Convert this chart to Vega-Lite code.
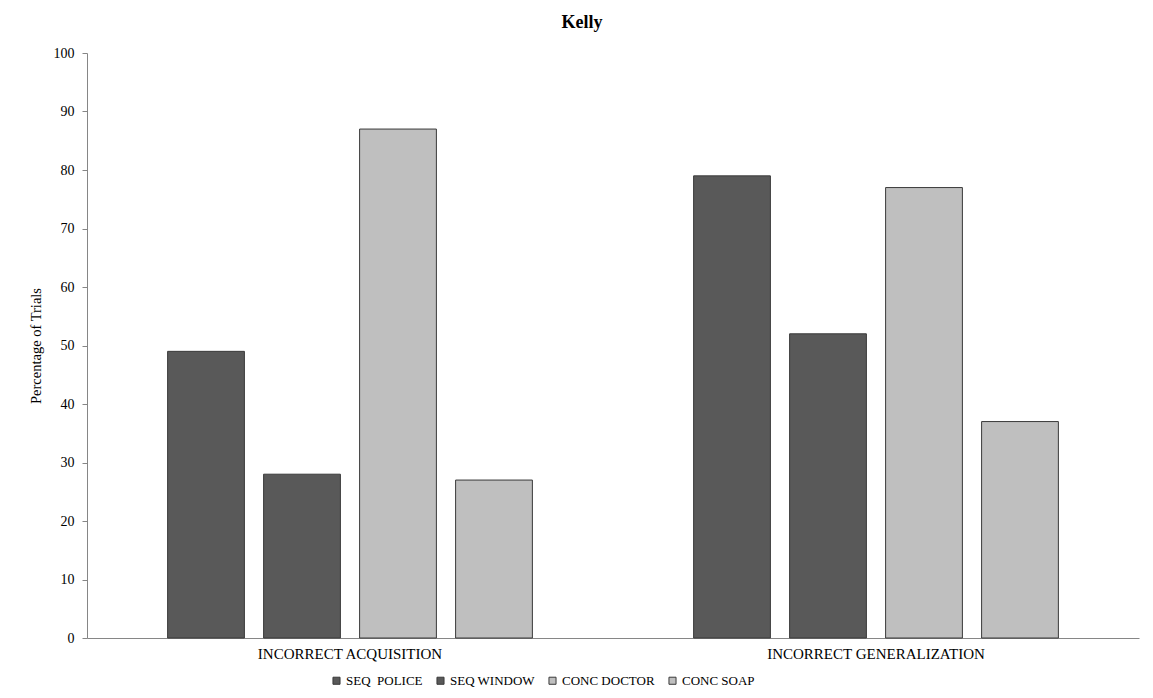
{
  "$schema": "https://vega.github.io/schema/vega-lite/v6.json",
  "width": 1052,
  "height": 585,
  "autosize": "none",
  "padding": {"left": 87, "top": 53, "right": 14, "bottom": 60},
  "background": "white",
  "title": {"text": "Kelly", "font": "Liberation Serif", "fontSize": 18, "fontWeight": "bold", "color": "black", "offset": 14, "dx": -31},
  "data": {
    "values": [
      {"measure": "INCORRECT ACQUISITION", "series": "SEQ\u00a0 POLICE", "value": 49},
      {"measure": "INCORRECT ACQUISITION", "series": "SEQ WINDOW", "value": 28},
      {"measure": "INCORRECT ACQUISITION", "series": "CONC DOCTOR", "value": 87},
      {"measure": "INCORRECT ACQUISITION", "series": "CONC SOAP", "value": 27},
      {"measure": "INCORRECT GENERALIZATION", "series": "SEQ\u00a0 POLICE", "value": 79},
      {"measure": "INCORRECT GENERALIZATION", "series": "SEQ WINDOW", "value": 52},
      {"measure": "INCORRECT GENERALIZATION", "series": "CONC DOCTOR", "value": 77},
      {"measure": "INCORRECT GENERALIZATION", "series": "CONC SOAP", "value": 37}
    ]
  },
  "mark": {"type": "bar", "stroke": "#3a3a3a", "strokeWidth": 1},
  "encoding": {
    "x": {
      "field": "measure", "type": "nominal", "sort": null,
      "scale": {"paddingInner": 0.27, "paddingOuter": 0.135},
      "axis": {"title": null, "labelAngle": 0, "ticks": false, "labelLimit": 0, "labelFont": "Liberation Serif", "labelFontSize": 15, "labelColor": "black", "labelPadding": 8, "domainColor": "#868686"}
    },
    "xOffset": {
      "field": "series", "type": "nominal", "sort": ["SEQ\u00a0 POLICE", "SEQ WINDOW", "CONC DOCTOR", "CONC SOAP"],
      "scale": {"paddingInner": 0.2, "paddingOuter": 0.1}
    },
    "y": {
      "field": "value", "type": "quantitative",
      "scale": {"domain": [0, 100], "nice": false},
      "axis": {"title": "Percentage of Trials", "titleFont": "Liberation Serif", "titleFontSize": 14.5, "titleFontWeight": "normal", "titleColor": "black", "titlePadding": 10, "values": [0,10,20,30,40,50,60,70,80,90,100], "grid": false, "labelFont": "Liberation Serif", "labelFontSize": 14, "labelColor": "black", "labelPadding": 8, "tickColor": "#868686", "tickSize": 5, "domainColor": "#868686"}
    },
    "color": {
      "field": "series", "type": "nominal",
      "sort": ["SEQ\u00a0 POLICE", "SEQ WINDOW", "CONC DOCTOR", "CONC SOAP"],
      "scale": {"domain": ["SEQ\u00a0 POLICE", "SEQ WINDOW", "CONC DOCTOR", "CONC SOAP"], "range": ["#595959", "#595959", "#BFBFBF", "#BFBFBF"]},
      "legend": {
        "title": null, "orient": "none", "direction": "horizontal", "legendX": 243, "legendY": 621,
        "columns": 4, "columnPadding": 11, "symbolType": "square", "symbolSize": 50, "symbolStrokeColor": "#3a3a3a", "symbolStrokeWidth": 1,
        "labelFont": "Liberation Serif", "labelFontSize": 13, "labelColor": "black", "labelOffset": 3
      }
    }
  },
  "config": {"view": {"stroke": null}}
}
